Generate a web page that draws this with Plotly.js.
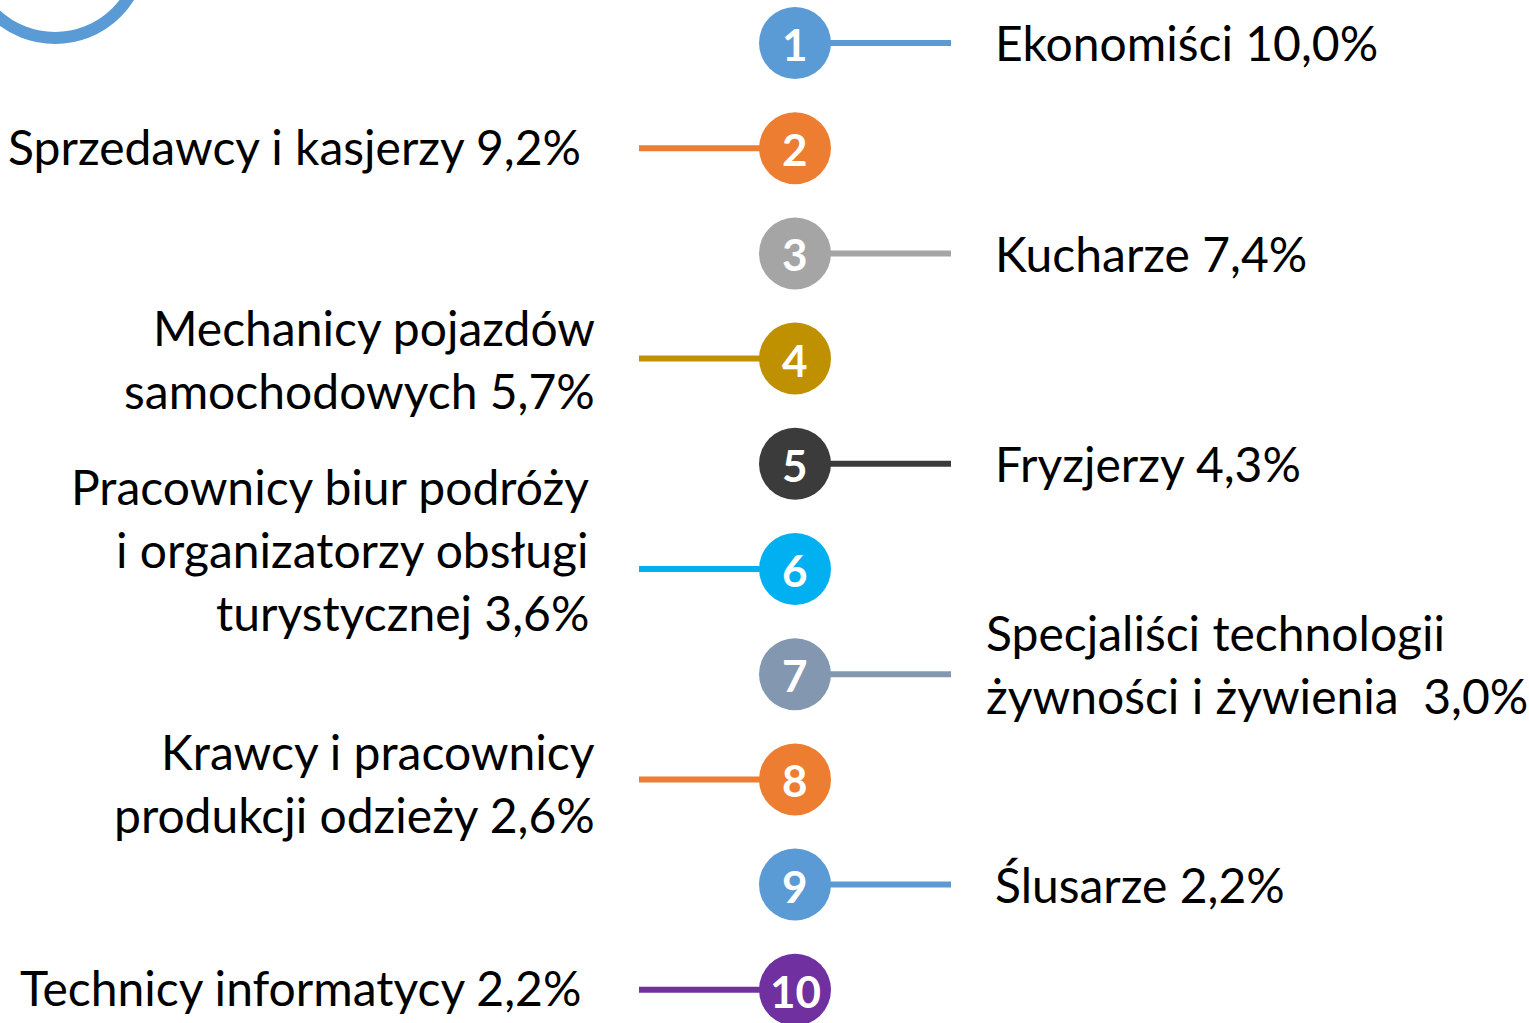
<!DOCTYPE html>
<html><head><meta charset="utf-8">
<script src="https://cdn.plot.ly/plotly-3.0.1.min.js"></script>
<style>html,body{margin:0;padding:0;background:#fff;}#chart{width:1529px;height:1023px;}</style>
</head><body><div id="chart"></div>
<script>
// Data
const ranks = [1,2,3,4,5,6,7,8,9,10];
const occupations = [
  "Ekonomiści",
  "Sprzedawcy i kasjerzy",
  "Kucharze",
  "Mechanicy pojazdów\nsamochodowych",
  "Fryzjerzy",
  "Pracownicy biur podróży\ni organizatorzy obsługi\nturystycznej",
  "Specjaliści technologii\nżywności i żywienia ",
  "Krawcy i pracownicy\nprodukcji odzieży",
  "Ślusarze",
  "Technicy informatycy"
];
const shares = ["10,0%","9,2%","7,4%","5,7%","4,3%","3,6%","3,0%","2,6%","2,2%","2,2%"];
const sides = ["right","left","right","left","right","left","right","left","right","left"];
const colors = ["#5B9BD5","#ED7D31","#A5A5A5","#BF9000","#3B3B3B","#00B0F0","#8497B0","#ED7D31","#5B9BD5","#7030A0"];

// Layout helpers (pixel geometry)
const W = 1529, H = 1023;
const cx = 795;
const yTop = 43, yStep = 105.2;
const yRange = [10 + (H - (yTop + 9*yStep)) / yStep, 1 - yTop / yStep];
const FONT = "Lato, 'Open Sans', sans-serif";
const FS = 48, LH = 63;
// vertical offset (px, up positive) of each label block relative to its circle
const blockShift = [1, 2, 0, 0, 0, 20, 10, -4, 0, 2];

const traces = [];
const annotations = [];
ranks.forEach((r, i) => {
  const right = sides[i] === "right";
  traces.push({
    x: right ? [cx, 951] : [639, cx], y: [r, r], mode: "lines",
    line: {color: colors[i], width: 6}, hoverinfo: "skip", showlegend: false
  });
  const lines = (occupations[i] + " " + shares[i]).split("\n");
  const n = lines.length;
  lines.forEach((t, k) => {
    annotations.push({
      x: right ? (n > 1 ? 984 : 993) : (n === 1 ? 583 : (n === 3 ? 591 : 597)),
      y: r, xref: "x", yref: "y",
      yshift: -((k - (n - 1) / 2) * LH) + blockShift[i],
      text: t, showarrow: false,
      xanchor: right ? "left" : "right", yanchor: "middle",
      font: {family: FONT, size: FS, color: "#000"}
    });
  });
  annotations.push({
    x: cx, y: r, xref: "x", yref: "y", yshift: -1,
    text: "<b>" + r + "</b>", showarrow: false, xanchor: "center", yanchor: "middle",
    font: {family: FONT, size: 44, color: "#fff"}
  });
});
traces.push({
  x: ranks.map(() => cx), y: ranks, mode: "markers",
  marker: {size: 72, color: colors, line: {width: 0}},
  hoverinfo: "skip", showlegend: false
});

const layout = {
  width: W, height: H, margin: {l: 0, r: 0, t: 0, b: 0},
  paper_bgcolor: "#fff", plot_bgcolor: "#fff", showlegend: false,
  xaxis: {range: [0, W], visible: false, fixedrange: true},
  yaxis: {range: yRange, visible: false, fixedrange: true},
  annotations: annotations,
  shapes: [{
    type: "circle", xref: "paper", yref: "paper", layer: "above",
    x0: (55 - 87) / W, x1: (55 + 87) / W, y0: 1 - (-49 + 87) / H, y1: 1 - (-49 - 87) / H,
    line: {color: "#5B9BD5", width: 12}, fillcolor: "rgba(0,0,0,0)"
  }]
};
Plotly.newPlot("chart", traces, layout, {displayModeBar: false, staticPlot: true});
</script></body></html>
